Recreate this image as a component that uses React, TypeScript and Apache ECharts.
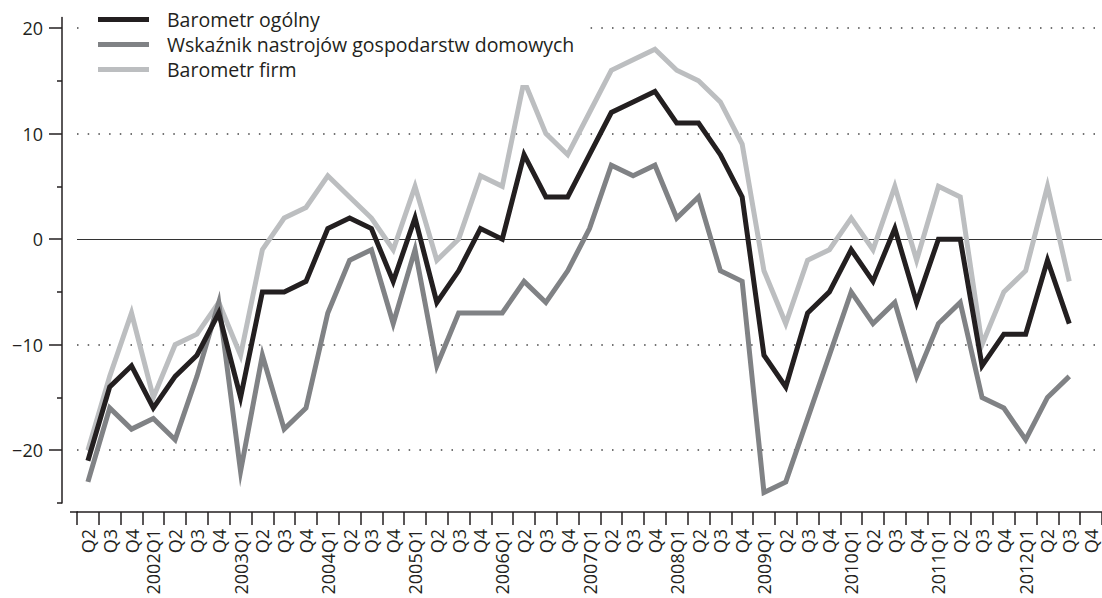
import React, { useEffect, useRef } from "react";
import * as echarts from "echarts";

const categories = [
  "Q2", "Q3", "Q4",
  "2002Q1", "Q2", "Q3", "Q4",
  "2003Q1", "Q2", "Q3", "Q4",
  "2004Q1", "Q2", "Q3", "Q4",
  "2005Q1", "Q2", "Q3", "Q4",
  "2006Q1", "Q2", "Q3", "Q4",
  "2007Q1", "Q2", "Q3", "Q4",
  "2008Q1", "Q2", "Q3", "Q4",
  "2009Q1", "Q2", "Q3", "Q4",
  "2010Q1", "Q2", "Q3", "Q4",
  "2011Q1", "Q2", "Q3", "Q4",
  "2012Q1", "Q2", "Q3", "Q4",
];

const barometrOgolny = [
  -21, -14, -12, -16, -13, -11, -7, -15, -5, -5, -4, 1, 2, 1, -4, 2, -6, -3, 1, 0,
  8, 4, 4, 8, 12, 13, 14, 11, 11, 8, 4, -11, -14, -7, -5, -1, -4, 1, -6, 0,
  0, -12, -9, -9, -2, -8,
];

const wskaznikGospodarstw = [
  -23, -16, -18, -17, -19, -13, -6, -22, -11, -18, -16, -7, -2, -1, -8, -1, -12, -7, -7, -7,
  -4, -6, -3, 1, 7, 6, 7, 2, 4, -3, -4, -24, -23, -17, -11, -5, -8, -6, -13, -8,
  -6, -15, -16, -19, -15, -13,
];

const barometrFirm = [
  -20, -13, -7, -15, -10, -9, -6, -11, -1, 2, 3, 6, 4, 2, -1, 5, -2, 0, 6, 5,
  15, 10, 8, 12, 16, 17, 18, 16, 15, 13, 9, -3, -8, -2, -1, 2, -1, 5, -2, 5,
  4, -10, -5, -3, 5, -4,
];

const yMajorTicks = [-20, -10, 0, 10, 20];
const yMinorTicks = [-25, -15, -5, 5, 15];
const dottedLines = [-20, -10, 10, 20];

const seriesNames = [
  "Barometr ogólny",
  "Wskaźnik nastrojów gospodarstw domowych",
  "Barometr firm",
];

const INK = "#231f20";
const FONT = "Open Sans";

export default function App() {
  const ref = useRef<HTMLDivElement>(null);

  useEffect(() => {
    if (!ref.current) return;
    const chart = echarts.init(ref.current, undefined, { renderer: "svg" });

    const lineSeries = (name: string, data: number[], color: string, z: number, extra: any = {}) => ({
      name,
      type: "line",
      data,
      z,
      color,
      showSymbol: false,
      symbol: "none",
      itemStyle: { color },
      lineStyle: { color, width: 5, join: "miter", miterLimit: 20, cap: "butt" },
      silent: true,
      ...extra,
    });

    const option: any = {
      animation: false,
      textStyle: { fontFamily: FONT },
      grid: { left: 77, right: -7, top: 17.5, bottom: 95, containLabel: false },
      legend: {
        data: seriesNames,
        orient: "vertical",
        left: 82,
        top: 4,
        padding: [5, 15, 5, 16],
        itemWidth: 51,
        itemHeight: 5,
        itemGap: 4,
        icon: "rect",
        backgroundColor: "#fff",
        selectedMode: false,
        textStyle: {
          fontFamily: FONT,
          fontSize: 19.5,
          color: INK,
          lineHeight: 21,
          padding: [0, 0, 0, 13],
        },
      },
      xAxis: {
        type: "category",
        data: categories,
        boundaryGap: true,
        offset: 9,
        axisLine: { show: true, onZero: false, lineStyle: { color: INK, width: 1.5 } },
        axisTick: {
          show: true,
          interval: 0,
          length: 13,
          alignWithLabel: false,
          lineStyle: { color: INK, width: 1.5 },
        },
        axisLabel: {
          interval: 0,
          rotate: 90,
          margin: 17,
          fontSize: 18,
          color: INK,
          fontFamily: FONT,
        },
        splitLine: { show: false },
      },
      yAxis: [
        {
          type: "value",
          min: -25,
          max: 21,
          offset: 15,
          position: "left",
          axisLine: { show: true, onZero: false, lineStyle: { color: INK, width: 1.5 } },
          axisTick: {
            show: true,
            customValues: yMajorTicks,
            length: 13,
            lineStyle: { color: INK, width: 1.5 },
          },
          axisLabel: {
            customValues: yMajorTicks,
            margin: 19,
            fontSize: 18,
            color: INK,
            fontFamily: FONT,
            formatter: (v: number) => String(v).replace("-", "\u2212"),
          },
          splitLine: { show: false },
        },
        {
          type: "value",
          min: -25,
          max: 21,
          offset: 15,
          position: "left",
          axisLine: { show: false, onZero: false },
          axisTick: {
            show: true,
            customValues: yMinorTicks,
            length: 5,
            lineStyle: { color: INK, width: 1.5 },
          },
          axisLabel: { show: false },
          splitLine: { show: false },
        },
      ],
      series: [
        lineSeries(seriesNames[0], barometrOgolny, INK, 4),
        lineSeries(seriesNames[1], wskaznikGospodarstw, "#808285", 3),
        lineSeries(seriesNames[2], barometrFirm, "#bcbec0", 2, {
          markLine: {
            z: 1,
            silent: true,
            symbol: "none",
            label: { show: false },
            emphasis: { disabled: true },
            data: [
              ...dottedLines.map((v) => ({
                yAxis: v,
                lineStyle: { color: "#444", width: 1.5, type: [1.5, 9.2] },
              })),
              { yAxis: 0, lineStyle: { color: "#333", width: 1, type: "solid" } },
            ],
          },
        }),
      ],
      graphic: [
        {
          type: "line",
          shape: { x1: 70, y1: 512, x2: 78, y2: 512 },
          style: { stroke: INK, lineWidth: 1.5 },
          silent: true,
        },
      ],
    };

    chart.setOption(option);
    return () => chart.dispose();
  }, []);

  return (
    <div
      ref={ref}
      style={{ position: "absolute", left: 0, top: 0, width: 1102, height: 598, background: "#fff" }}
    />
  );
}
